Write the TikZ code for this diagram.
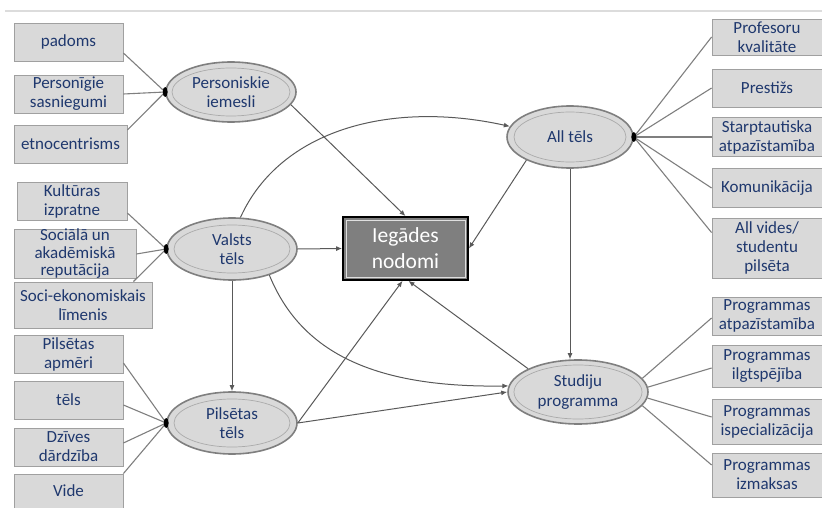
\documentclass[tikz,border=0pt]{standalone}
\usepackage{fontspec}
\setmainfont{Carlito}
\usetikzlibrary{arrows.meta,calc,shapes.geometric}
\definecolor{txtblue}{RGB}{31,56,110}
\definecolor{boxfill}{RGB}{217,217,217}
\definecolor{boxline}{RGB}{160,160,160}
\definecolor{ellline}{RGB}{127,127,127}
\definecolor{innerline}{RGB}{170,170,170}
\definecolor{arrcol}{RGB}{89,89,89}
\definecolor{toprule}{RGB}{220,220,220}
\definecolor{centerfill}{RGB}{127,127,127}
\begin{document}
\begin{tikzpicture}[x=1pt,y=-1pt,
  itembox/.style={draw=boxline, fill=boxfill, line width=0.8pt, text=txtblue, align=center,
    font=\fontsize{17}{19}\selectfont, inner sep=0pt, minimum width=109, minimum height=38},
  factor/.style={ellipse, draw=ellline, fill=boxfill, line width=1.6pt, text=txtblue, align=center,
    font=\fontsize{17}{19.5}\selectfont, inner sep=0pt},
  innerell/.style={draw=innerline, line width=0.7pt},
  central/.style={draw=black, line width=1.8pt, fill=centerfill, text=white, align=center,
    font=\fontsize{21.5}{26}\selectfont, minimum width=125, minimum height=63, inner sep=0pt},
  conn/.style={draw=arrcol, line width=1pt, -{Latex[length=6pt,width=5pt]}},
  link/.style={draw=ellline, line width=1.1pt},
  dot/.style={fill=black}
]
\useasboundingbox (0,0) rectangle (822,508);
\draw[toprule, line width=2.5pt] (5,11) -- (822,11);

% left boxes
\node[itembox] (padoms) at (68.5,42) {padoms};
\node[itembox] (persg) at (68.5,94) {Personīgie\\sasniegumi};
\node[itembox, minimum width=113] (etno) at (70.5,144) {etnocentrisms};
\node[itembox, minimum width=110] (kult) at (72,201) {Kultūras\\izpratne};
\node[itembox, minimum width=122, minimum height=48, font=\fontsize{17}{17.5}\selectfont] (soc) at (75,254) {Sociālā un\\akadēmiskā\\reputācija};
\node[itembox, minimum width=138, minimum height=46] (socek) at (83,305) {Soci-ekonomiskais\\līmenis};
\node[itembox] (pilsap) at (68.5,354) {Pilsētas\\apmēri};
\node[itembox] (tels) at (68.5,400) {tēls};
\node[itembox] (dziv) at (68.5,447) {Dzīves\\dārdzība};
\node[itembox, minimum height=34] (vide) at (68.5,491) {Vide};

% right boxes
\node[itembox, minimum width=110, minimum height=36] (prof) at (767,37) {Profesoru\\kvalitāte};
\node[itembox, minimum width=110] (prest) at (767,88) {Prestižs};
\node[itembox, minimum width=110, minimum height=39] (starp) at (767,137) {Starptautiska\\atpazīstamība};
\node[itembox, minimum width=110, minimum height=39] (komun) at (767,188) {Komunikācija};
\node[itembox, minimum width=110, minimum height=60] (allv) at (767,248) {All vides/\\studentu\\pilsēta};
\node[itembox, minimum width=110] (patp) at (767,316) {Programmas\\atpazīstamība};
\node[itembox, minimum width=110, minimum height=42] (pilg) at (767,366) {Programmas\\ilgtspējība};
\node[itembox, minimum width=110, minimum height=45] (pisp) at (767,422) {Programmas\\ispecializācija};
\node[itembox, minimum width=110, minimum height=44] (pizm) at (767,475) {Programmas\\izmaksas};

% factor ellipses
\node[factor, minimum width=130, minimum height=60] (perse) at (231,92) {Personiskie\\iemesli};
\node[factor, minimum width=130, minimum height=62] (valsts) at (232,249) {Valsts\\tēls};
\node[factor, minimum width=130, minimum height=62] (pils) at (232,423) {Pilsētas\\tēls};
\node[factor, minimum width=126, minimum height=62] (allt) at (570,137) {All tēls};
\node[factor, minimum width=140, minimum height=64] (stud) at (578,392) {Studiju\\programma};
\draw[innerell] (perse.center) ellipse (59 and 24);
\draw[innerell] (valsts.center) ellipse (58 and 24);
\draw[innerell] (pils.center) ellipse (58 and 24);
\draw[innerell] (allt.center) ellipse (56 and 25);
\draw[innerell] (stud.center) ellipse (64 and 27);

% central node
\node[central] (iegades) at (405.5,248.5) {Iegādes\\nodomi};
\draw[white!75!gray, line width=0.8pt] ($(iegades.north west)+(4,4)$) rectangle ($(iegades.south east)+(-4,-4)$);

% links to items
\draw[link] ($(padoms.east)+(0,11)$) -- (perse.west);
\draw[link] (persg.east) -- (perse.west);
\draw[link] ($(etno.east)+(0,-14)$) -- (perse.west);
\draw[link] ($(kult.east)+(0,12)$) -- (valsts.west);
\draw[link] (soc.east) -- (valsts.west);
\draw[link] ($(socek.north east)+(-19,0)$) -- (valsts.west);
\draw[link] ($(pilsap.east)+(0,9)$) -- (pils.west);
\draw[link] ($(tels.east)+(0,5)$) -- (pils.west);
\draw[link] ($(dziv.east)+(0,-4)$) -- (pils.west);
\draw[link] (vide.north east) -- (pils.west);
\draw[link] (allt.east) -- (prof.west);
\draw[link] (allt.east) -- (prest.west);
\draw[link] (allt.east) -- (starp.west);
\draw[link] (allt.east) -- (komun.west);
\draw[link] (allt.east) -- ($(allv.north west)+(0,15)$);
\draw[link] (stud.12) -- ($(patp.west)+(0,2)$);
\draw[link] (stud.4) -- ($(pilg.west)+(0,2)$);
\draw[link] (stud.-5) -- ($(pisp.west)+(0,-5)$);
\draw[link] (stud.-12) -- ($(pizm.west)+(0,-10)$);

% dots
\fill[dot] (perse.west) ellipse (2.5 and 5);
\fill[dot] (valsts.west) ellipse (2.5 and 5);
\fill[dot] (pils.west) ellipse (2.5 and 5);
\fill[dot] (allt.east) ellipse (2.5 and 5);

% arrows
\draw[conn] (perse.-12) -- (iegades.north);
\draw[conn] (valsts.75) .. controls (280,130) and (390,100) .. (allt.170);
\draw[conn] (valsts.east) -- (iegades.west);
\draw[conn] (allt.208) -- (iegades.east);
\draw[conn] (valsts.south) -- (pils.north);
\draw[conn] (valsts.-35) .. controls (300,350) and (370,388) .. (stud.175);
\draw[conn] (pils.east) -- ($(iegades.south)+(-3,0)$);
\draw[conn] (pils.east) -- (stud.west);
\draw[conn] (stud.155) -- ($(iegades.south)+(3,0)$);
\draw[conn] (allt.south) -- (allt.south |- stud.north);
\end{tikzpicture}
\end{document}
